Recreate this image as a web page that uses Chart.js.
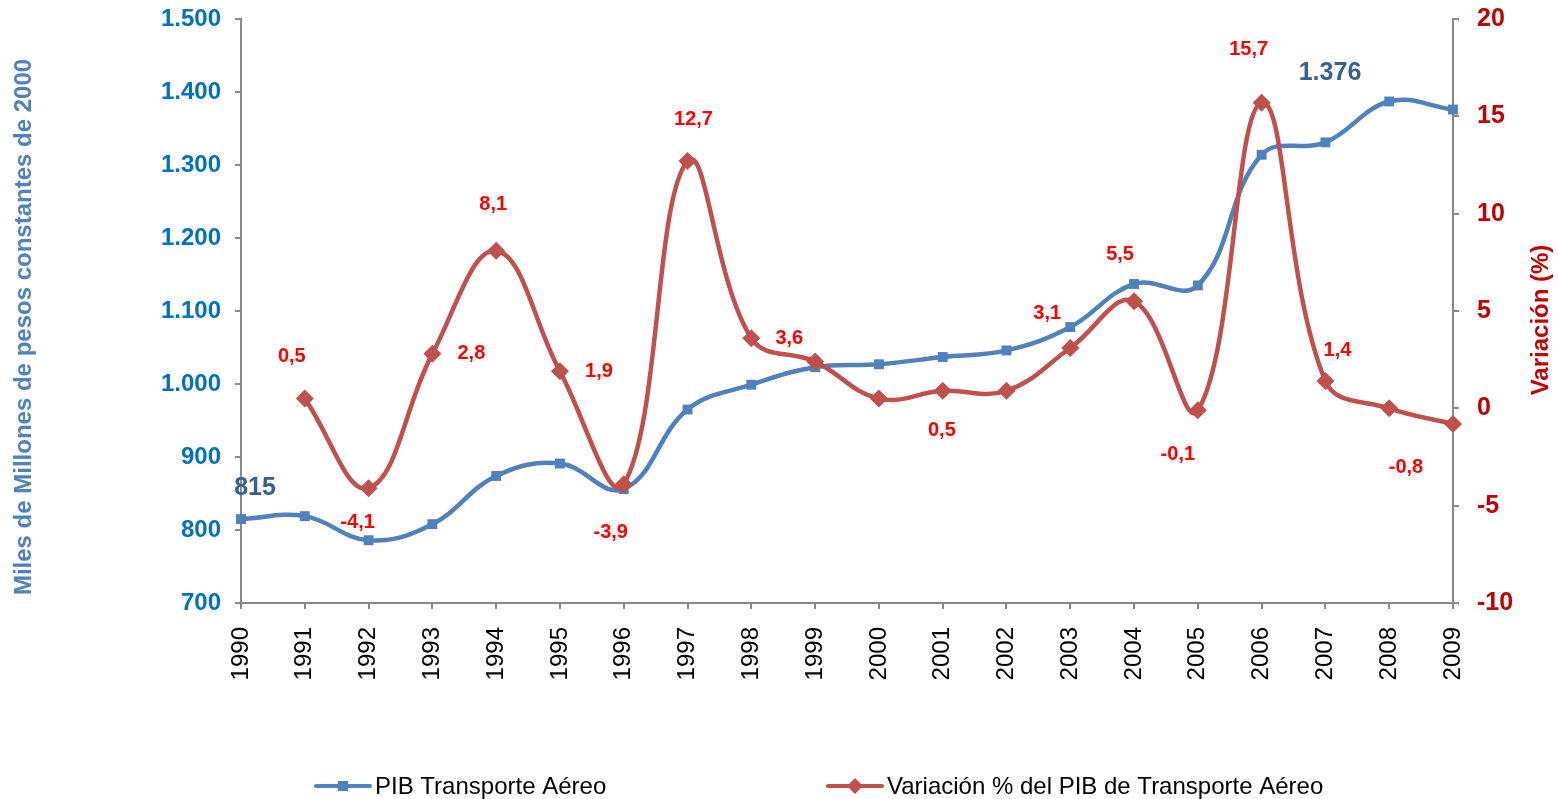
<!DOCTYPE html>
<html><head><meta charset="utf-8">
<script src="https://cdn.jsdelivr.net/npm/chart.js@4.4.1/dist/chart.umd.min.js"></script>
<style>html,body{margin:0;padding:0;background:#fff;}canvas{display:block;}</style>
</head><body>
<canvas id="c" width="1558" height="799"></canvas>
<script>
const years = ['1990','1991','1992','1993','1994','1995','1996','1997','1998','1999','2000','2001','2002','2003','2004','2005','2006','2007','2008','2009'];
const pibValues = [815, 819, 786, 808, 874, 891, 856, 965, 999, 1023, 1027, 1037, 1046, 1078, 1137, 1135, 1314, 1331, 1387, 1376];
const variationValues = [null, 0.5, -4.1, 2.8, 8.1, 1.9, -3.9, 12.7, 3.6, 2.4, 0.5, 0.9, 0.9, 3.1, 5.5, -0.1, 15.7, 1.4, 0.0, -0.8];
const leftTicks = [700, 800, 900, 1000, 1100, 1200, 1300, 1400, 1500];
const rightTicks = [-10, -5, 0, 5, 10, 15, 20];
const seriesNames = ['PIB Transporte Aéreo', 'Variación % del PIB de Transporte Aéreo'];
const leftTitle = 'Miles de Millones de pesos constantes de 2000';
const rightTitle = 'Variación (%)';

// label placement (offsets in px from the point), null = no label
const pibLabelOffsets = [[14,-31], null, null, null, null, null, null, null, null, null, null, null, null, null, null, null, null, null, null, [-123,-36]];
const varLabelOffsets = [null, [-13,-42], [-11,34], [39,0], [-3,-46], [39,0], [-13,48], [6,-42], [38,0], null, [63,32], null, null, [-23,-35], [-14,-47], [-20,44], [-13,-53], [12,-31], null, [-47,44]];

const FONT = '"Liberation Sans", Arial, sans-serif';
const BLUE = '#4F81BD', RED = '#C0504D', AXIS = '#898989';
const fmtThousands = v => String(Math.round(v)).replace(/\B(?=(\d{3})+(?!\d))/g, '.');
const fmtVar = v => v.toFixed(1).replace('.', ',');
const noPad = s => { s.paddingTop = 0; s.paddingBottom = 0; s.paddingLeft = 0; s.paddingRight = 0; };

const annotate = {
  id: 'annotate',
  afterDatasetsDraw(chart) {
    const ctx = chart.ctx;
    const mPib = chart.getDatasetMeta(1), mVar = chart.getDatasetMeta(0);
    ctx.save();
    ctx.textAlign = 'center'; ctx.textBaseline = 'middle';
    ctx.font = 'bold 20px ' + FONT; ctx.fillStyle = '#FF0000';
    variationValues.forEach((v, i) => {
      const o = varLabelOffsets[i]; if (!o || v == null) return;
      const p = mVar.data[i]; ctx.fillText(fmtVar(v), p.x + o[0], p.y + o[1]);
    });
    ctx.font = 'bold 25px ' + FONT; ctx.fillStyle = '#376092';
    pibValues.forEach((v, i) => {
      const o = pibLabelOffsets[i]; if (!o) return;
      const p = mPib.data[i]; ctx.fillText(fmtThousands(v), p.x + o[0], p.y + o[1]);
    });
    const ca = chart.chartArea, y1 = chart.scales.y1, y0 = chart.scales.y;
    const midY = (ca.top + ca.bottom) / 2;
    // left axis title (reads bottom to top)
    ctx.save();
    ctx.translate(y0.left + 24, midY + 16);
    ctx.rotate(-Math.PI / 2);
    ctx.font = 'bold 24px ' + FONT; ctx.fillStyle = BLUE;
    ctx.fillText(leftTitle, 0, 0);
    ctx.restore();
    // right axis title (reads bottom to top)
    ctx.save();
    ctx.translate(y1.right - 17, midY + 9);
    ctx.rotate(-Math.PI / 2);
    ctx.font = 'bold 24px ' + FONT; ctx.fillStyle = '#C00000';
    ctx.fillText(rightTitle, 0, 0);
    ctx.restore();
    // legend
    const ly = 786;
    const items = [{x: 316, color: BLUE, style: 'rect'}, {x: 828, color: RED, style: 'diamond'}];
    items.forEach((it, k) => {
      ctx.strokeStyle = it.color; ctx.lineWidth = 4; ctx.lineCap = 'round';
      ctx.beginPath(); ctx.moveTo(it.x, ly); ctx.lineTo(it.x + 54, ly); ctx.stroke();
      ctx.fillStyle = it.color;
      const cx = it.x + 27;
      if (it.style === 'rect') { ctx.fillRect(cx - 5, ly - 5, 10, 10); }
      else { ctx.beginPath(); ctx.moveTo(cx, ly - 8); ctx.lineTo(cx + 8, ly); ctx.lineTo(cx, ly + 8); ctx.lineTo(cx - 8, ly); ctx.closePath(); ctx.fill(); }
      ctx.fillStyle = '#000'; ctx.textAlign = 'left'; ctx.font = '24px ' + FONT;
      ctx.fillText(seriesNames[k], it.x + 59, ly + 1);
    });
    ctx.restore();
  }
};

new Chart(document.getElementById('c'), {
  type: 'line',
  data: {
    labels: years,
    datasets: [
      {
        label: seriesNames[1], data: variationValues, yAxisID: 'y1', order: 0,
        borderColor: RED, backgroundColor: RED, borderWidth: 4.5, tension: 0.4,
        pointStyle: 'rectRot', pointRadius: 9, pointBorderWidth: 0, clip: false, spanGaps: false
      },
      {
        label: seriesNames[0], data: pibValues, yAxisID: 'y', order: 1,
        borderColor: BLUE, backgroundColor: BLUE, borderWidth: 4.5, tension: 0.4,
        pointStyle: 'rect', pointRadius: 7, pointBorderWidth: 0, clip: false
      }
    ]
  },
  options: {
    responsive: false, animation: false, devicePixelRatio: 1,
    layout: { padding: { top: 19, bottom: 50, left: 0, right: 0 } },
    plugins: { legend: { display: false }, tooltip: { enabled: false } },
    scales: {
      x: {
        offset: false,
        grid: { display: true, drawOnChartArea: false, drawTicks: true, tickLength: 6, color: AXIS, lineWidth: 2 },
        border: { display: true, color: AXIS, width: 2 },
        ticks: { autoSkip: false, maxRotation: 90, minRotation: 90, padding: 18, color: '#000', font: { family: FONT, size: 24 } },
        afterFit: s => { s.height = 146; noPad(s); }
      },
      y: {
        position: 'left', min: leftTicks[0], max: leftTicks[leftTicks.length - 1],
        afterBuildTicks: s => { s.ticks = leftTicks.map(v => ({ value: v })); },
        grid: { display: true, drawOnChartArea: false, drawTicks: true, tickLength: 6, color: AXIS, lineWidth: 2 },
        border: { display: true, color: AXIS, width: 2 },
        ticks: { padding: 14, color: '#0070C0', font: { family: FONT, size: 24, weight: 'bold' }, callback: v => fmtThousands(v) },
        afterFit: s => { s.width = 241; noPad(s); }
      },
      y1: {
        position: 'right', min: rightTicks[0], max: rightTicks[rightTicks.length - 1],
        afterBuildTicks: s => { s.ticks = rightTicks.map(v => ({ value: v })); },
        grid: { display: true, drawOnChartArea: false, drawTicks: true, tickLength: 6, color: AXIS, lineWidth: 2 },
        border: { display: true, color: AXIS, width: 2 },
        ticks: { padding: 18, color: '#C00000', font: { family: FONT, size: 25, weight: 'bold' } },
        afterFit: s => { s.width = 105; noPad(s); }
      }
    }
  },
  plugins: [annotate]
});
</script>
</body></html>
